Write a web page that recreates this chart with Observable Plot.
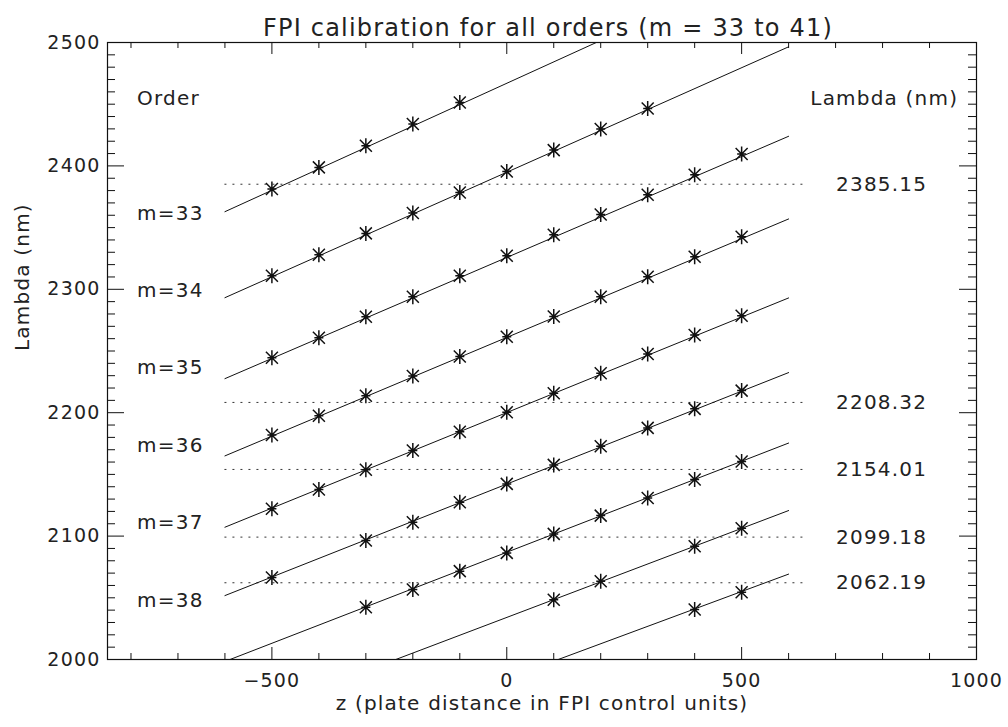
<!DOCTYPE html>
<html><head><meta charset="utf-8">
<script src="https://cdn.jsdelivr.net/npm/d3@7"></script>
<script src="https://cdn.jsdelivr.net/npm/@observablehq/plot@0.6"></script>
<style>
body{margin:0;background:#fff;}
svg text{letter-spacing:1.2px;}
</style></head><body><div id="chart"></div>
<script>
// ---- data ----
const zPositions = [-500,-400,-300,-200,-100,0,100,200,300,400,500];
const orders = [33,34,35,36,37,38,39,40,41];
const lambdaM33 = [2381.3,2398.8,2416.3,2433.9,2451.4,null,null,null,null,null,null];
const lambdaM34 = [2311.0,2328.0,2345.3,2361.8,2378.5,2395.5,2412.8,2429.9,2446.5,null,null];
const lambdaM35 = [2244.6,2260.8,2277.8,2294.0,2311.0,2327.2,2344.2,2360.6,2376.6,2392.8,2409.6];
const lambdaM36 = [2182.0,2197.6,2213.8,2229.8,2245.6,2261.5,2278.0,2294.0,2310.2,2326.4,2342.6];
const lambdaM37 = [2122.1,2137.7,2153.7,2169.3,2184.6,2200.3,2215.7,2231.9,2247.6,2263.0,2278.6];
const lambdaM38 = [2066.5,null,2096.4,2111.2,2127.4,2142.3,2157.7,2172.8,2187.7,2203.1,2217.9];
const lambdaM39 = [null,null,2042.4,2056.7,2071.6,2086.4,2101.8,2116.6,2130.9,2145.8,2160.4];
const lambdaM40 = [null,null,null,null,null,null,2048.4,2063.4,null,2091.8,2106.3];
const lambdaM41 = [null,null,null,null,null,null,null,null,null,2040.5,2054.5];
const lambdaByOrder = [lambdaM33,lambdaM34,lambdaM35,lambdaM36,lambdaM37,lambdaM38,lambdaM39,lambdaM40,lambdaM41];

// fitted lines: value at z = -600 and z = 600
const fitZ = [-600, 600];
const fitStartLambda = [2362.9,2293.2,2227.6,2165.0,2107.2,2051.8,1998.4,1947.5,1899.9];
const fitEndLambda   = [2571.0,2496.5,2424.0,2357.0,2293.0,2232.5,2175.4,2120.7,2069.2];

// reference wavelengths (dotted)
const refLambdas = [2385.15,2208.32,2154.01,2099.18,2062.19];
const refLabels = ["2385.15","2208.32","2154.01","2099.18","2062.19"];
const refZRange = [-600, 640];

// order labels
const orderLabels = ["m=33","m=34","m=35","m=36","m=37","m=38"];
const orderLabelLambda = [2361.5,2298.9,2236.2,2173.5,2110.8,2048.1];

const titleText = "FPI calibration for all orders (m = 33 to 41)";
const xTitle = "z (plate distance in FPI control units)";
const yTitle = "Lambda (nm)";

const xMajorTicks = [-500,0,500,1000];
const xMajorLabels = ["\u2212500","0","500","1000"];
const xMinorTicks = [-800,-700,-600,-400,-300,-200,-100,100,200,300,400,600,700,800,900];
const yMajorTicks = [2000,2100,2200,2300,2400,2500];
const yMajorLabels = ["2000","2100","2200","2300","2400","2500"];
const yMinorTicks = d3.range(2010,2500,10).filter(v => v % 100 !== 0);

// ---- build tables ----
const stars = orders.flatMap((m,i) => zPositions.map((z,j) => ({m, z, lambda: lambdaByOrder[i][j]}))).filter(d => d.lambda != null);
const fitLines = orders.flatMap((m,i) => [
  {m, z: fitZ[0], lambda: fitStartLambda[i]},
  {m, z: fitZ[1], lambda: fitEndLambda[i]}
]);

const W = 1008, H = 727;
const mt = 42, mb = 68, ml = 107, mr = 32;
const fh = H - mt - mb, fw = W - ml - mr;

const asterisk = {
  draw(ctx, size) {
    const r = Math.sqrt(size / Math.PI);
    const d = r * 0.8;
    ctx.moveTo(0, -r); ctx.lineTo(0, r);
    ctx.moveTo(-d, -d); ctx.lineTo(d, d);
    ctx.moveTo(-d, d); ctx.lineTo(d, -d);
    ctx.moveTo(-r * 0.6, 0); ctx.lineTo(r * 0.6, 0);
  }
};

const ink = "#111";
const txt = "#222";
const font = "'DejaVu Sans ExtraLight', 'DejaVu Sans', sans-serif";
const chart = Plot.plot({
  width: W, height: H,
  marginTop: mt, marginBottom: mb, marginLeft: ml, marginRight: mr,
  x: {domain: [-850, 1000], axis: null},
  y: {domain: [2000, 2500], axis: null},
  style: {fontFamily: font, fontSize: "19px", color: ink, background: "#fff"},
  marks: [
    Plot.ruleY(refLambdas, {y: d => d, x1: refZRange[0], x2: refZRange[1], stroke: "#333", strokeWidth: 1, strokeDasharray: "2,6"}),
    Plot.line(fitLines, {x: "z", y: "lambda", z: "m", stroke: ink, strokeWidth: 1, clip: true}),
    Plot.dot(stars, {x: "z", y: "lambda", symbol: asterisk, r: 7.5, stroke: ink, fill: "none", strokeWidth: 1.5}),
    Plot.frame({stroke: ink, strokeWidth: 1.2}),
    Plot.tickX(xMajorTicks, {x: d => d, insetTop: fh - 12, stroke: ink}),
    Plot.tickX(xMinorTicks, {x: d => d, insetTop: fh - 6, stroke: ink}),
    Plot.tickX(xMajorTicks, {x: d => d, insetBottom: fh - 12, stroke: ink}),
    Plot.tickX(xMinorTicks, {x: d => d, insetBottom: fh - 6, stroke: ink}),
    Plot.tickY(yMajorTicks, {y: d => d, insetRight: fw - 17, stroke: ink}),
    Plot.tickY(yMinorTicks, {y: d => d, insetRight: fw - 8, stroke: ink}),
    Plot.tickY(yMajorTicks, {y: d => d, insetLeft: fw - 17, stroke: ink}),
    Plot.tickY(yMinorTicks, {y: d => d, insetLeft: fw - 8, stroke: ink}),
    Plot.text(xMajorTicks, {x: d => d, text: (d,i) => xMajorLabels[i], frameAnchor: "bottom", lineAnchor: "top", dy: 14, fontSize: 19, fill: txt}),
    Plot.text(yMajorTicks, {y: d => d, text: (d,i) => yMajorLabels[i], frameAnchor: "left", textAnchor: "end", dx: -7, fontSize: 19, fill: txt}),
    Plot.text([titleText], {text: d => d, frameAnchor: "top", dy: -24, dx: 6, fontSize: 24, fill: txt}),
    Plot.text([xTitle], {text: d => d, frameAnchor: "bottom", dy: 50, fontSize: 20, fill: txt}),
    Plot.text([yTitle], {text: d => d, frameAnchor: "left", dx: -85, rotate: -90, fontSize: 20, fill: txt}),
    Plot.text(["Order"], {x: -787, y: 2454.4, text: d => d, textAnchor: "start", fontSize: 20, fill: txt}),
    Plot.text(orderLabels, {x: -787, y: (d,i) => orderLabelLambda[i], text: d => d, textAnchor: "start", fontSize: 20, fill: txt}),
    Plot.text(["Lambda (nm)"], {x: 961, y: 2454.4, text: d => d, textAnchor: "end", fontSize: 20, fill: txt}),
    Plot.text(refLabels, {x: 701, y: (d,i) => refLambdas[i], text: d => d, textAnchor: "start", fontSize: 20, fill: txt})
  ]
});
document.getElementById("chart").appendChild(chart);
</script></body></html>
